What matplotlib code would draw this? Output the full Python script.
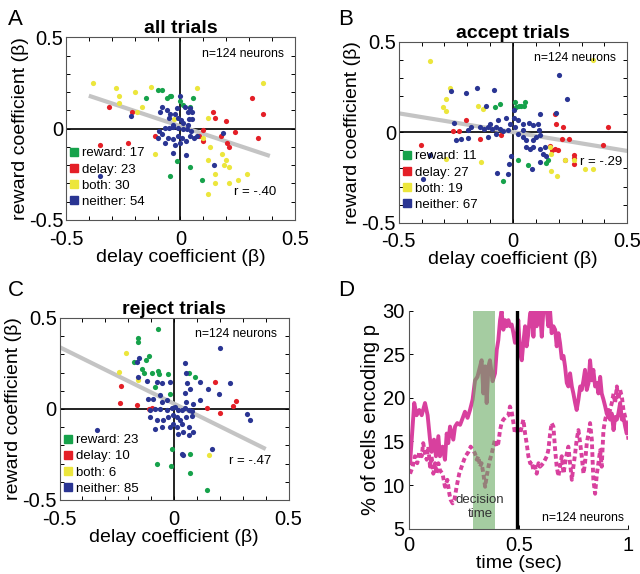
import numpy as np
import matplotlib.pyplot as plt
from matplotlib.lines import Line2D
from matplotlib.ticker import MultipleLocator

plt.rcParams['font.family'] = ['Liberation Sans', 'DejaVu Sans']
plt.rcParams['axes.unicode_minus'] = False

# ---- colours
c_rew, c_del, c_both, c_nei = '#16a24b', '#e41f27', '#ece63c', '#2a3593'

# ---- panel A: all trials  (delay beta, reward beta)
a_rew = [(-0.1, 0.21), (-0.08, 0.21), (-0.15, 0.17), (-0.06, 0.17), (-0.045, 0.18), (-0.04, 0.18),
         (0.04, 0.12), (0.01, 0.13), (0.055, 0.17), (0.0, 0.15), (0.04, -0.21), (-0.015, -0.18),
         (-0.045, -0.26), (0.095, -0.28)]
a_del = [(-0.31, 0.12), (-0.21, 0.09), (-0.35, -0.09), (-0.23, -0.08), (-0.11, -0.04), (0.14, 0.09),
         (0.15, 0.06), (0.2, 0.04), (0.24, -0.02), (0.175, -0.04), (0.205, -0.08), (0.21, -0.1),
         (0.31, 0.17), (0.36, 0.08), (0.34, -0.05), (0.08, -0.04), (0.1, -0.07), (0.1, -0.01)]
a_both = [(-0.38, 0.25), (-0.28, 0.22), (-0.27, 0.18), (-0.27, 0.14), (-0.2, 0.2), (-0.17, 0.12),
          (-0.13, 0.23), (-0.19, 0.09), (-0.03, 0.05), (0.07, 0.22), (0.36, 0.25), (0.12, 0.06),
          (-0.11, -0.14), (0.1, -0.05), (0.13, -0.1), (0.18, -0.14), (0.12, -0.17), (0.2, -0.17),
          (0.15, -0.25), (0.19, -0.2), (0.21, -0.21), (0.29, -0.25), (0.25, -0.28), (0.21, -0.3),
          (0.15, -0.3), (0.12, -0.36)]
a_nei = [(-0.215, 0.07), (-0.35, -0.26), (0.0, 0.18), (-0.08, 0.12), (-0.09, 0.09), (-0.06, 0.1),
         (-0.045, 0.08), (-0.025, 0.08), (-0.016, 0.11), (0.02, 0.12), (0.04, 0.11), (0.05, 0.09),
         (0.05, 0.055), (-0.05, 0.06), (-0.012, 0.06), (0.003, 0.046), (0.013, 0.03), (0.032, 0.022),
         (-0.066, 0.005), (-0.048, 0.005), (-0.031, 0.009), (-0.01, 0.005), (0.01, 0.0), (0.028, -0.005),
         (0.047, -0.015), (-0.092, -0.013), (-0.08, -0.031), (-0.055, -0.049), (-0.033, -0.057),
         (-0.01, -0.042), (0.007, -0.049), (0.025, -0.068), (-0.066, -0.079), (-0.096, -0.049),
         (-0.026, -0.09), (-0.004, -0.077), (-0.033, -0.133), (0.022, -0.146), (0.058, -0.053),
         (0.073, -0.042), (0.042, -0.042), (0.185, -0.024), (0.146, -0.197), (-0.033, 0.022),
         (0.039, 0.055), (0.032, 0.091)]
a_fit_x, a_fit_y = [-0.4, 0.39], [0.18, -0.15]

# ---- panel B: accept trials
b_rew = [(0.007, 0.17), (0.012, 0.14), (0.025, 0.145), (0.036, 0.145), (0.051, 0.17), (0.048, 0.145),
         (-0.079, 0.14), (-0.058, 0.155), (0.022, -0.155), (0.066, -0.182), (-0.044, -0.27),
         (0.146, -0.168), (0.153, -0.151)]
b_del = [(-0.404, -0.072), (-0.263, 0.006), (-0.234, 0.006), (-0.207, 0.066), (-0.146, -0.037),
         (0.182, 0.103), (0.187, 0.048), (0.219, 0.029), (0.216, -0.035), (0.245, -0.037),
         (0.161, -0.077), (0.172, -0.099), (0.185, -0.094), (0.197, -0.099), (0.269, -0.142),
         (0.269, -0.125), (0.228, -0.151), (-0.054, -0.015), (0.418, 0.028), (0.393, -0.068),
         (0.266, -0.175)]
b_both = [(-0.365, 0.392), (-0.274, 0.247), (-0.292, 0.184), (-0.308, 0.14), (-0.295, 0.116),
          (-0.153, 0.147), (-0.131, 0.131), (-0.295, -0.145), (-0.14, -0.164), (0.161, -0.081),
          (0.166, -0.122), (0.229, -0.151), (0.165, -0.214), (0.191, -0.241), (0.269, -0.151),
          (0.317, -0.204), (0.35, -0.204), (0.35, 0.401)]
b_nei = [(0.2, 0.319), (0.236, 0.184), (-0.27, 0.228), (-0.207, 0.217), (-0.158, 0.247), (-0.085, 0.236),
         (-0.117, 0.144), (0.187, 0.109), (0.12, 0.103), (0.003, 0.122), (0.003, 0.081), (0.022, 0.066),
         (0.044, 0.048), (0.07, 0.052), (0.088, 0.039), (0.112, 0.015), (-0.26, 0.052), (-0.182, 0.029),
         (-0.197, 0.011), (-0.146, 0.029), (-0.128, 0.02), (-0.109, 0.029), (-0.091, 0.02), (-0.073, 0.029),
         (-0.058, 0.02), (-0.102, 0.048), (-0.066, 0.07), (-0.029, 0.081), (-0.015, 0.048), (0.01, 0.029),
         (-0.022, 0.011), (-0.044, 0.007), (-0.248, -0.044), (-0.226, -0.035), (-0.197, -0.029),
         (-0.109, -0.026), (-0.076, -0.007), (0.022, -0.011), (0.044, -0.026), (0.058, -0.044),
         (0.088, -0.044), (0.102, -0.026), (0.117, -0.017), (0.073, -0.09), (0.058, -0.081),
         (0.088, -0.081), (0.12, -0.09), (0.139, -0.081), (0.131, -0.118), (0.146, -0.133),
         (0.117, -0.164), (0.085, -0.201), (-0.018, -0.177), (-0.007, -0.133), (-0.022, -0.228),
         (-0.069, -0.225), (-0.361, -0.127), (-0.394, -0.256), (0.109, 0.048), (0.044, 0.011)]
b_fit_x, b_fit_y = [-0.5, 0.5], [0.105, -0.103]

# ---- panel C: reject trials
c_rew_pts = [(-0.07, 0.44), (-0.157, 0.39), (-0.157, 0.37), (-0.108, 0.29), (-0.122, 0.27), (-0.14, 0.22),
             (-0.131, 0.2), (-0.097, 0.2), (-0.064, 0.19), (-0.025, 0.19), (-0.173, 0.26), (-0.085, 0.12),
             (-0.017, 0.08), (0.067, 0.2), (0.09, 0.176), (-0.009, -0.218), (-0.076, -0.305),
             (-0.015, -0.314), (0.07, -0.246), (0.07, -0.352), (0.144, -0.448), (-0.07, 0.21)]
c_del_pts = [(-0.231, 0.125), (-0.236, 0.035), (-0.163, 0.024), (-0.108, 0.002), (-0.095, 0.007),
             (0.179, 0.149), (0.143, 0.006), (0.201, -0.022), (0.255, 0.015), (0.269, 0.042)]
c_both_pts = [(-0.211, 0.31), (-0.24, 0.204), (-0.159, 0.161), (0.153, -0.253)]
c_nei_pts = [(0.201, 0.336), (-0.154, 0.281), (-0.163, 0.257), (-0.156, 0.176), (-0.119, 0.152),
             (-0.076, 0.149), (-0.054, 0.143), (-0.017, 0.149), (0.048, 0.25), (0.052, 0.198),
             (0.055, 0.143), (0.111, 0.149), (0.194, 0.084), (0.15, 0.112), (0.242, 0.143),
             (-0.112, 0.053), (-0.09, 0.057), (-0.061, 0.075), (-0.054, 0.039), (-0.032, 0.048),
             (0.048, 0.088), (0.07, 0.112), (0.052, 0.039), (0.084, 0.029), (0.114, 0.048),
             (-0.105, -0.007), (-0.083, 0.002), (-0.061, 0.002), (-0.032, -0.004), (-0.01, 0.007),
             (0.004, 0.011), (0.019, -0.004), (0.033, -0.007), (0.048, 0.007), (0.063, -0.004),
             (0.077, -0.011), (-0.105, -0.044), (-0.076, -0.062), (-0.047, -0.062), (-0.025, -0.044),
             (-0.003, -0.035), (0.012, -0.044), (0.026, -0.062), (0.052, -0.044), (0.077, -0.04),
             (-0.083, -0.108), (-0.054, -0.099), (-0.017, -0.099), (0.012, -0.099), (0.033, -0.081),
             (0.063, -0.099), (0.041, -0.127), (0.063, -0.145), (0.084, -0.127), (0.019, -0.136),
             (-0.003, -0.081), (0.033, -0.246), (0.038, -0.255), (0.164, -0.218), (0.317, -0.026),
             (0.332, -0.062), (-0.338, -0.114)]
c_fit_x, c_fit_y = [-0.5, 0.4], [0.34, -0.22]

# ---- panel D: % of cells encoding p
sol_t = [0.005, 0.024, 0.035, 0.047, 0.058, 0.073, 0.085, 0.096, 0.103, 0.114, 0.123, 0.134, 0.141,
         0.153, 0.164, 0.172, 0.179, 0.187, 0.202, 0.21, 0.22, 0.233, 0.245, 0.255, 0.267, 0.278,
         0.29, 0.301, 0.312, 0.324, 0.331, 0.339, 0.347, 0.354, 0.362, 0.369, 0.381, 0.392, 0.4,
         0.407, 0.415, 0.422, 0.43, 0.438, 0.445, 0.453, 0.46, 0.468, 0.476, 0.483, 0.491, 0.498,
         0.506, 0.514, 0.521, 0.529, 0.536, 0.544, 0.552, 0.559, 0.567, 0.574, 0.582, 0.59, 0.597,
         0.605, 0.612, 0.62, 0.628, 0.635, 0.643, 0.65, 0.658, 0.666, 0.673, 0.681, 0.688, 0.696,
         0.704, 0.711, 0.719, 0.726, 0.734, 0.742, 0.749, 0.757, 0.764, 0.772, 0.78, 0.787, 0.795,
         0.802, 0.81, 0.818, 0.825, 0.833, 0.84, 0.848, 0.856, 0.863, 0.871, 0.878, 0.886, 0.894,
         0.901, 0.909, 0.916, 0.924, 0.932, 0.939, 0.947, 0.954, 0.962, 0.97, 0.977, 0.985, 0.992,
         0.997]
sol_v = [12.5, 19.4, 18.0, 18.6, 18.0, 19.4, 18.0, 15.2, 13.8, 15.2, 13.3, 15.6, 13.3,
         14.4, 12.9, 15.9, 14.8, 16.7, 15.2, 16.7, 17.1, 16.9, 17.7, 18.4, 17.7, 18.6,
         19.8, 22.0, 22.4, 23.6, 24.3, 20.5, 23.6, 19.4, 23.6, 24.3, 21.9, 22.8, 25.5,
         26.6, 28.9, 29.9, 27.8, 28.9, 28.2, 28.9, 28.2, 28.4, 27.4, 26.3, 27.0, 28.9,
         25.1, 24.3, 26.3, 28.2, 25.9, 27.4, 29.7, 29.9, 27.0, 29.9, 28.2, 29.9, 29.9,
         27.0, 29.9, 29.9, 29.9, 28.2, 29.9, 27.4, 28.2, 27.8, 25.9, 27.4, 26.3, 24.5,
         24.8, 23.6, 21.7, 21.3, 22.8, 21.3, 20.5, 19.4, 18.6, 19.8, 21.3, 20.9, 22.0,
         23.2, 20.9, 21.7, 24.3, 22.0, 23.2, 21.3, 21.7, 20.5, 22.4, 20.5, 19.8, 19.0,
         18.2, 18.6, 17.5, 18.2, 16.3, 17.8, 17.5, 18.2, 19.4, 17.5, 17.8, 16.7, 15.9,
         16.7]
dot_t = [0.005, 0.017, 0.027, 0.038, 0.047, 0.058, 0.065, 0.073, 0.081, 0.088, 0.096, 0.103, 0.111,
         0.119, 0.126, 0.134, 0.141, 0.153, 0.164, 0.175, 0.184, 0.19, 0.199, 0.207, 0.217, 0.229,
         0.24, 0.251, 0.26, 0.271, 0.281, 0.293, 0.301, 0.309, 0.316, 0.324, 0.331, 0.339, 0.347,
         0.354, 0.362, 0.369, 0.377, 0.384, 0.392, 0.4, 0.407, 0.415, 0.422, 0.43, 0.438, 0.445,
         0.453, 0.46, 0.468, 0.476, 0.483, 0.491, 0.498, 0.506, 0.514, 0.521, 0.529, 0.536, 0.544,
         0.552, 0.559, 0.567, 0.574, 0.582, 0.59, 0.597, 0.605, 0.612, 0.62, 0.628, 0.635, 0.643,
         0.65, 0.658, 0.666, 0.673, 0.681, 0.688, 0.696, 0.704, 0.711, 0.719, 0.726, 0.734, 0.742,
         0.749, 0.757, 0.764, 0.772, 0.78, 0.787, 0.795, 0.802, 0.81, 0.818, 0.825, 0.833, 0.84,
         0.848, 0.856, 0.863, 0.871, 0.878, 0.886, 0.894, 0.901, 0.909, 0.916, 0.924, 0.932, 0.939,
         0.947, 0.954, 0.962, 0.97, 0.977, 0.985, 0.992, 1.0]
dot_v = [11.3, 12.1, 13.3, 12.5, 13.8, 13.3, 14.8, 13.6, 12.9, 14.4, 12.1, 13.3, 11.3,
         12.5, 11.3, 12.5, 11.7, 11.3, 9.8, 10.6, 9.0, 8.3, 7.9, 8.3, 9.8, 11.3,
         12.1, 12.9, 13.4, 13.8, 14.4, 14.0, 13.6, 12.9, 13.3, 12.1, 12.5, 11.3, 9.8,
         11.0, 12.1, 12.9, 13.6, 14.4, 15.2, 14.4, 14.8, 16.3, 17.1, 17.5, 17.7, 17.9,
         18.0, 19.0, 18.4, 17.1, 15.9, 16.7, 16.1, 15.9, 16.7, 17.5, 15.9, 14.8, 13.3,
         12.5, 12.7, 11.7, 12.1, 11.3, 12.5, 12.1, 12.3, 12.5, 12.9, 13.3, 14.0, 15.9,
         17.1, 16.7, 14.0, 12.1, 11.0, 12.1, 13.3, 11.3, 12.5, 13.6, 14.4, 12.5, 10.6,
         12.1, 13.6, 15.2, 16.3, 14.8, 13.3, 11.3, 12.5, 14.8, 15.9, 17.1, 15.2, 10.6,
         9.0, 11.3, 12.5, 14.0, 12.1, 16.3, 17.5, 18.2, 17.8, 18.6, 19.4, 20.5, 19.4,
         21.3, 19.8, 20.9, 20.1, 18.6, 17.8, 16.7, 15.2]
decision_window = (0.29, 0.39)
choice_time = 0.49

fig = plt.figure(figsize=(6.4, 5.74), dpi=100)


def scatter_panel(rect, title, groups, counts, fit_x, fit_y, r_text, r_pos, leg_anchor):
    ax = fig.add_axes(rect)
    ax.axhline(0, color='#222222', lw=1.4, zorder=1)
    ax.axvline(0, color='#222222', lw=1.4, zorder=1)
    ax.plot(fit_x, fit_y, color='#c4c4c4', lw=3, solid_capstyle='butt', zorder=2)
    cols = [c_rew, c_del, c_both, c_nei]
    for pts, col in zip(groups, cols):
        pts = np.array(pts)
        ax.scatter(pts[:, 0], pts[:, 1], s=14, color=col, linewidths=0, zorder=3)
    ax.set_xlim(-0.5, 0.5)
    ax.set_ylim(-0.5, 0.5)
    ax.set_xticks([-0.5, 0, 0.5])
    ax.set_yticks([-0.5, 0, 0.5])
    ax.set_xticklabels(['-0.5', '0', '0.5'])
    ax.set_yticklabels(['-0.5', '0', '0.5'])
    ax.xaxis.set_minor_locator(MultipleLocator(0.1))
    ax.yaxis.set_minor_locator(MultipleLocator(0.1))
    ax.tick_params(which='both', direction='in', top=True, right=True, length=3, width=0.7)
    ax.tick_params(axis='x', labelsize=14.5, pad=7)
    ax.tick_params(axis='y', labelsize=14.5, pad=2)
    for s in ax.spines.values():
        s.set_linewidth(0.8)
        s.set_color('#555555')
    ax.set_xlabel('delay coefficient (β)', fontsize=14, labelpad=0)
    ax.set_ylabel('reward coefficient (β)', fontsize=14, labelpad=0)
    ax.set_title(title, fontsize=14, fontweight='bold', pad=3)
    ax.text(0.95, 0.91, 'n=124 neurons', transform=ax.transAxes, ha='right', va='center', fontsize=8.8)
    ax.text(r_pos[0], r_pos[1], r_text, transform=ax.transAxes, ha='right', va='center', fontsize=9.5)
    names = ['reward', 'delay', 'both', 'neither']
    handles = [Line2D([], [], marker='s', color=c, linestyle='none', markersize=6) for c in cols]
    labels = [f'{n}: {k}' for n, k in zip(names, counts)]
    ax.legend(handles, labels, loc='lower left', bbox_to_anchor=leg_anchor, frameon=False,
              fontsize=9.5, handlelength=0.6, handletextpad=0.3, labelspacing=0.3,
              borderpad=0, borderaxespad=0)
    return ax


scatter_panel([0.103, 0.617, 0.358, 0.318], 'all trials', [a_rew, a_del, a_both, a_nei],
              [17, 23, 30, 54], a_fit_x, a_fit_y, 'r = -.40', (0.92, 0.15), (0.02, 0.065))
scatter_panel([0.623, 0.612, 0.357, 0.315], 'accept trials', [b_rew, b_del, b_both, b_nei],
              [11, 27, 19, 67], b_fit_x, b_fit_y, 'r = -.29', (0.98, 0.335), (0.02, 0.065))
scatter_panel([0.093, 0.129, 0.358, 0.317], 'reject trials', [c_rew_pts, c_del_pts, c_both_pts, c_nei_pts],
              [23, 10, 6, 85], c_fit_x, c_fit_y, 'r = -.47', (0.923, 0.216), (0.02, 0.028))

# ---- panel D
axd = fig.add_axes([0.639, 0.079, 0.343, 0.38])
pink = '#d8409e'
axd.plot(sol_t, sol_v, color=pink, lw=2.8, zorder=2)
axd.plot(dot_t, dot_v, color=pink, lw=2.8, dashes=(1.2, 0.8), zorder=2)
axd.axvspan(*decision_window, color='#6aaa62', alpha=0.6, lw=0, zorder=3)
axd.axvline(choice_time, color='black', lw=2.4, zorder=4)
axd.set_xlim(0, 1)
axd.set_ylim(5, 30)
axd.set_xticks([0, 0.5, 1])
axd.set_xticklabels(['0', '0.5', '1'])
axd.set_yticks([5, 10, 15, 20, 25, 30])
axd.spines['top'].set_visible(False)
axd.spines['right'].set_visible(False)
for s in ['left', 'bottom']:
    axd.spines[s].set_linewidth(0.8)
    axd.spines[s].set_color('#555555')
axd.tick_params(direction='in', length=3, width=0.7, labelsize=14.5)
axd.tick_params(axis='x', pad=5)
axd.tick_params(axis='y', pad=3)
axd.set_xlabel('time (sec)', fontsize=14, labelpad=0)
axd.set_ylabel('% of cells encoding p', fontsize=14.5, labelpad=2)
axd.text(0.325, 7.5, 'decision\ntime', ha='center', va='center', fontsize=9.5, color='#333333',
         linespacing=1.25, zorder=5)
axd.text(0.98, 6.2, 'n=124 neurons', ha='right', va='center', fontsize=8.8)

# panel letters
for lab, x, y in [('A', 0.012, 0.985), ('B', 0.528, 0.985), ('C', 0.012, 0.513), ('D', 0.528, 0.513)]:
    fig.text(x, y, lab, fontsize=16, ha='left', va='top')

fig.savefig('out.png', dpi=100)
